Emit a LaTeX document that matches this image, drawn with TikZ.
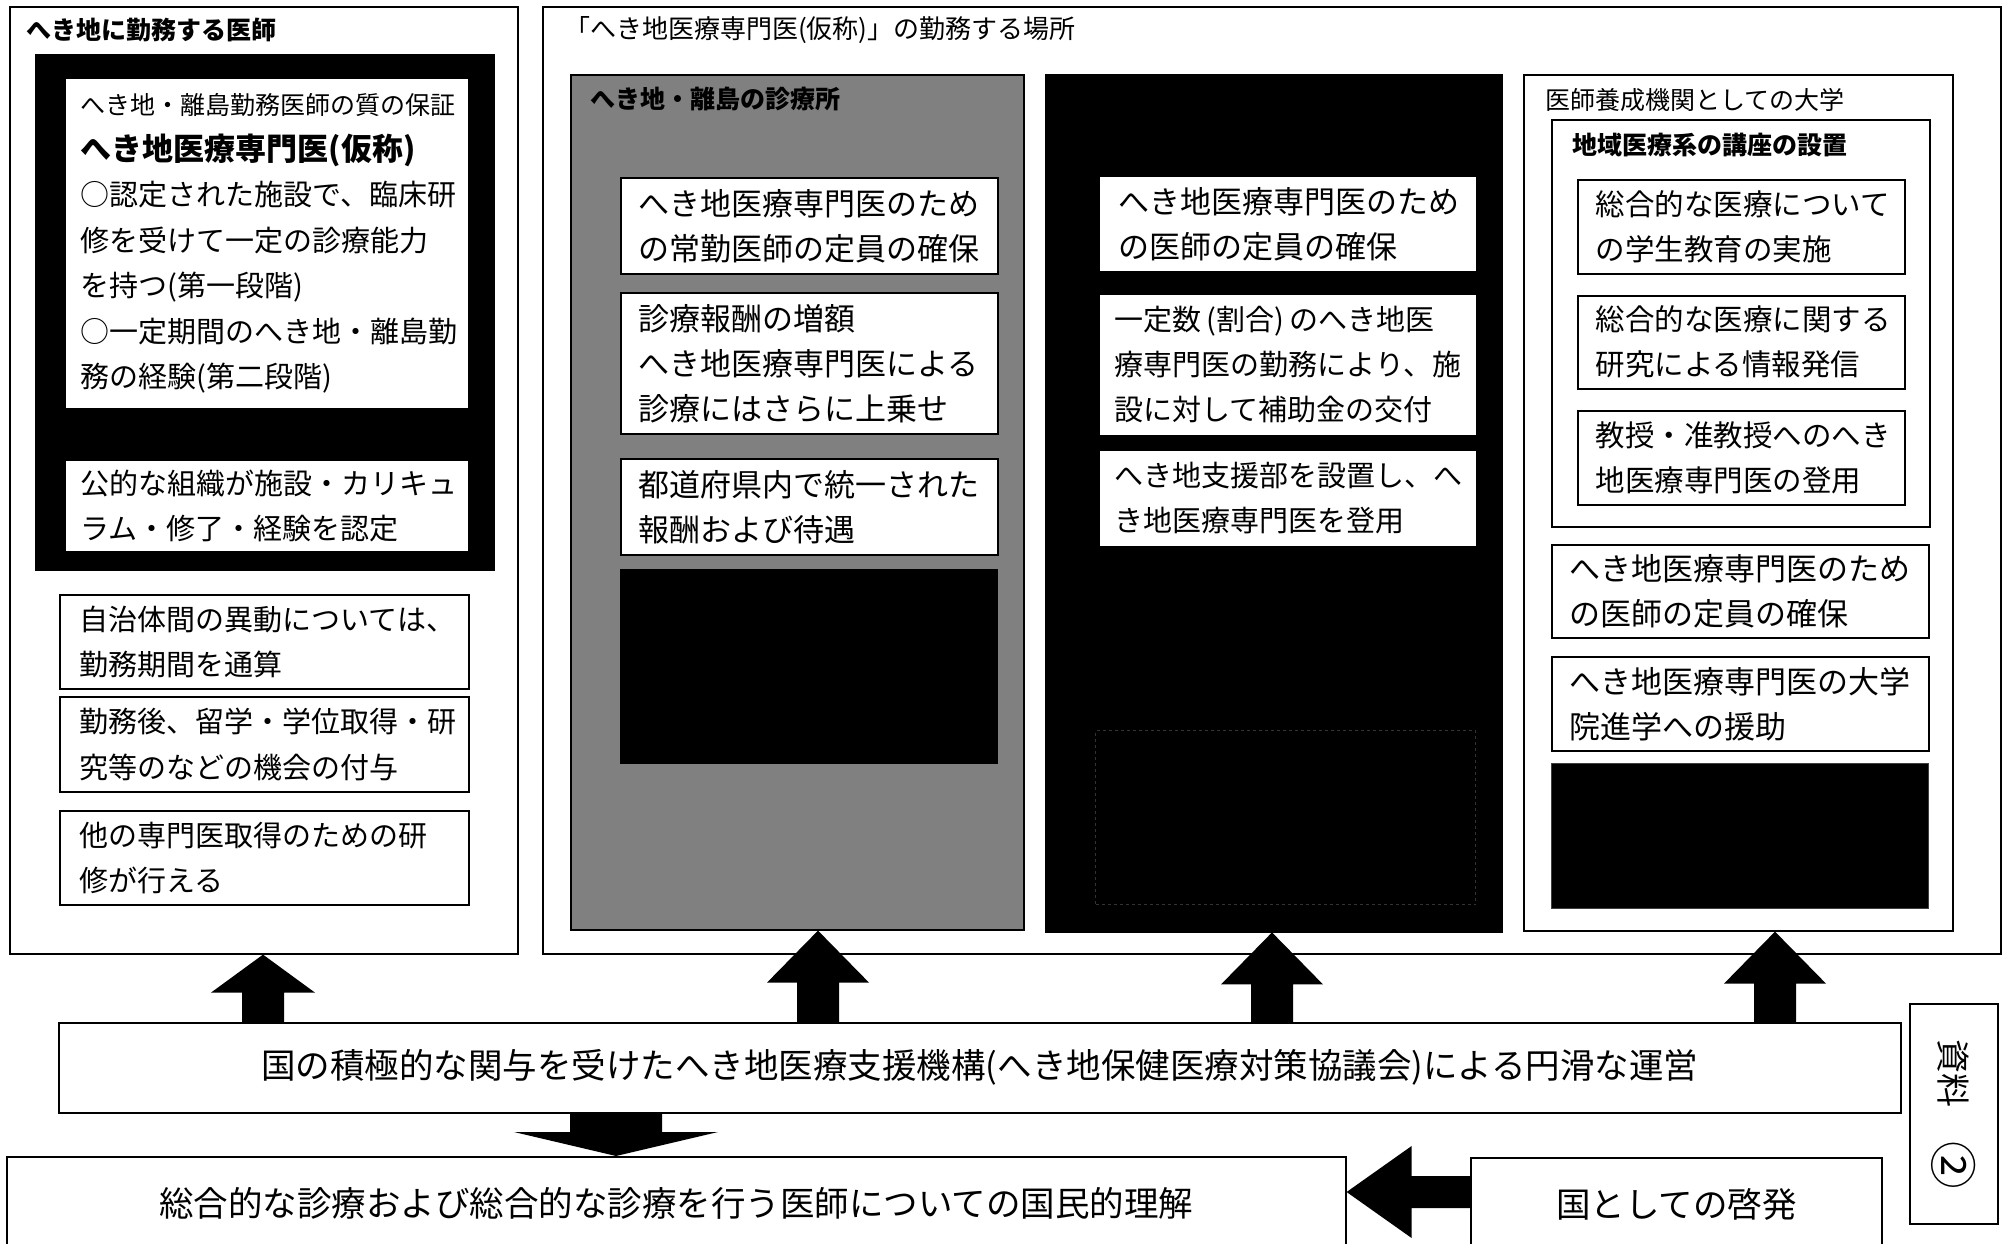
\documentclass[tikz,border=0pt]{standalone}
\usepackage{fontspec}
\setmainfont{Noto Sans CJK JP}
\usetikzlibrary{calc}
\newcommand\fsBody{\fontsize{31}{45}\selectfont}
\newcommand\fsNarrow{\fontsize{29}{45}\selectfont}
\newcommand\fsR{\fontsize{29.5}{45}\selectfont}
\newcommand\fsLeft{\fontsize{29}{45.5}\selectfont}
\newcommand\fsSub{\fontsize{25}{45.5}\selectfont}
\newcommand\fsHead{\fontsize{25}{30}\selectfont}
\newcommand\fsLarge{\fontsize{34.5}{40}\selectfont}
\newcommand\tbox[8]{\node[#6,minimum width=#4pt,minimum height=#5pt,text width=#7pt] (#1) at (#2,#3) {#8};}
\newcommand\blockup[6]{%
  \coordinate (#2-#3-b) at (#1,0 |- #2.north);
  \coordinate (#2-#3-t) at (#1,0 |- #3.south);
  \fill[blockarrow] ($(#2-#3-b)+(-#5,0)$) -- ($(#2-#3-t)+(-#5,#6)$) -- ($(#2-#3-t)+(-#4,#6)$) -- (#2-#3-t) -- ($(#2-#3-t)+(#4,#6)$) -- ($(#2-#3-t)+(#5,#6)$) -- ($(#2-#3-b)+(#5,0)$) -- cycle;}
\tikzset{
  panel/.style={draw=black,line width=1.6pt,anchor=north west,inner sep=0pt},
  wbox/.style={draw=black,line width=1.6pt,fill=white,anchor=north west,inner ysep=0pt,inner xsep=18pt,align=left,font=\fsBody},
  title/.style={anchor=west,inner sep=0pt,font=\fsHead},
  blk/.style={draw=black,fill=black,anchor=north west,inner sep=0pt},
  bigtext/.style={draw=black,line width=1.6pt,fill=white,anchor=north west,inner sep=0pt,align=center,font=\fsLarge},
  blockarrow/.style={fill=black,draw=none},
}
\begin{document}
\begin{tikzpicture}[x=1pt,y=-1pt]
\useasboundingbox (0,0) rectangle (2010,1244);
\fill[white] (0,0) rectangle (2010,1244);

% ---------------- left column
\node[panel,minimum width=508pt,minimum height=947pt] (lout) at (9,6) {};
\node[title,font=\fsHead\bfseries] (ltitle) at (26,30) {へき地に勤務する医師};
\node[blk,minimum width=459pt,minimum height=516pt] (lblack) at (35,54) {};
\tbox{la}{64}{77}{404}{331}{wbox,inner xsep=16pt,font=\fsLeft}{372}{{\fsSub へき地・離島勤務医師の質の保証}\\{\fontsize{31}{45.5}\selectfont\bfseries へき地医療専門医(仮称)}\\○認定された施設で、臨床研\\修を受けて一定の診療能力\\を持つ(第一段階)\\○一定期間のへき地・離島勤\\務の経験(第二段階)}
\tbox{lb}{64}{459}{404}{92}{wbox,inner xsep=16pt,font=\fsLeft}{372}{公的な組織が施設・カリキュ\\ラム・修了・経験を認定}
\tbox{lc}{59}{594}{409}{94}{wbox,inner xsep=20pt,font=\fsLeft}{369}{自治体間の異動については、\\勤務期間を通算}
\tbox{ld}{59}{696}{409}{95}{wbox,inner xsep=20pt,font=\fsLeft}{369}{勤務後、留学・学位取得・研\\究等のなどの機会の付与}
\tbox{le}{59}{810}{409}{94}{wbox,inner xsep=20pt,font=\fsLeft}{369}{他の専門医取得のための研\\修が行える}

% ---------------- right big box
\node[panel,minimum width=1458pt,minimum height=947pt] (rout) at (542,6) {};
\node[title,font=\fontsize{26}{30}\selectfont] (rtitle) at (564,30) {「へき地医療専門医(仮称)」の勤務する場所};

% gray panel
\node[panel,fill=black!50,minimum width=453pt,minimum height=855pt] (gp) at (570,74) {};
\node[title,font=\fsHead\bfseries] (gtitle) at (590,99) {へき地・離島の診療所};
\tbox{g1}{620}{177}{377}{96}{wbox}{341}{へき地医療専門医のため\\の常勤医師の定員の確保}
\tbox{g2}{620}{292}{377}{141}{wbox}{341}{診療報酬の増額\\へき地医療専門医による\\診療にはさらに上乗せ}
\tbox{g3}{620}{458}{377}{96}{wbox}{341}{都道府県内で統一された\\報酬および待遇}
\node[blk,minimum width=377pt,minimum height=194pt] (g4) at (620,569) {};

% black panel
\node[blk,minimum width=457pt,minimum height=858pt] (kp) at (1045,74) {};
\tbox{k1}{1100}{177}{374}{92}{wbox,draw=white}{338}{へき地医療専門医のため\\の医師の定員の確保}
\tbox{k2}{1100}{295}{374}{138}{wbox,draw=white,inner xsep=14pt,font=\fsNarrow}{346}{一定数\,(割合)\,のへき地医\\療専門医の勤務により、施\\設に対して補助金の交付}
\tbox{k3}{1100}{451}{374}{93}{wbox,draw=white,inner xsep=14pt,font=\fsNarrow}{346}{へき地支援部を設置し、へ\\き地医療専門医を登用}
\node[blk,draw=black!80,line width=1pt,dashed,minimum width=380pt,minimum height=174pt] (k4) at (1095,730) {};

% right panel
\node[panel,minimum width=429pt,minimum height=856pt] (rp) at (1523,74) {};
\node[title] (rptitle) at (1545,100) {医師養成機関としての大学};
\node[panel,fill=white,minimum width=378pt,minimum height=407pt] (r0) at (1551,119) {};
\node[title,font=\fsHead\bfseries] (r0title) at (1572,145) {地域医療系の講座の設置};
\tbox{r1}{1577}{179}{327}{94}{wbox,font=\fsR}{291}{総合的な医療について\\の学生教育の実施}
\tbox{r2}{1577}{295}{327}{93}{wbox,font=\fsR}{291}{総合的な医療に関する\\研究による情報発信}
\tbox{r3}{1577}{410}{327}{94}{wbox,font=\fsR}{291}{教授・准教授へのへき\\地医療専門医の登用}
\tbox{r4}{1551}{544}{377}{93}{wbox}{341}{へき地医療専門医のため\\の医師の定員の確保}
\tbox{r5}{1551}{656}{377}{94}{wbox}{341}{へき地医療専門医の大学\\院進学への援助}
\node[blk,draw=black!75,line width=1pt,minimum width=377pt,minimum height=145pt] (r6) at (1551,763) {};

% ---------------- bottom
\node[bigtext,minimum width=1842pt,minimum height=90pt] (band) at (58,1022) {国の積極的な関与を受けたへき地医療支援機構(へき地保健医療対策協議会)による円滑な運営};
\node[bigtext,minimum width=1339pt,minimum height=94pt] (kokumin) at (6,1156) {総合的な診療および総合的な診療を行う医師についての国民的理解};
\node[bigtext,minimum width=411pt,minimum height=93pt] (keihatsu) at (1470,1157) {国としての啓発};
\node[draw,line width=1.6pt,rotate=-90,minimum width=220pt,minimum height=88pt,inner sep=0pt,font=\fontsize{34}{40}\selectfont] (shiryo) at (1954,1114) {資料　\raisebox{-0.12em}{\scalebox{1.4}{②}}};

% ---------------- arrows
\blockup{263}{band}{lout}{52}{21}{38}
\blockup{818}{band}{gp}{51}{21}{52}
\blockup{1272}{band}{kp}{51}{21}{52}
\blockup{1775}{band}{rp}{51}{21}{52}

\coordinate (dn-b) at (616,0 |- band.south);
\coordinate (dn-t) at (616,0 |- kokumin.north);
\fill[blockarrow] ($(dn-b)+(-46,0)$) -- ($(dn-t)+(-46,-24)$) -- ($(dn-t)+(-102,-24)$) -- (dn-t) -- ($(dn-t)+(102,-24)$) -- ($(dn-t)+(46,-24)$) -- ($(dn-b)+(46,0)$) -- cycle;

\coordinate (lf-b) at (keihatsu.west |- 0,1192);
\coordinate (lf-t) at (kokumin.east |- 0,1192);
\fill[blockarrow] ($(lf-b)+(0,-16)$) -- ($(lf-t)+(65,-16)$) -- ($(lf-t)+(65,-46)$) -- (lf-t) -- ($(lf-t)+(65,46)$) -- ($(lf-t)+(65,16)$) -- ($(lf-b)+(0,16)$) -- cycle;
\end{tikzpicture}
\end{document}
